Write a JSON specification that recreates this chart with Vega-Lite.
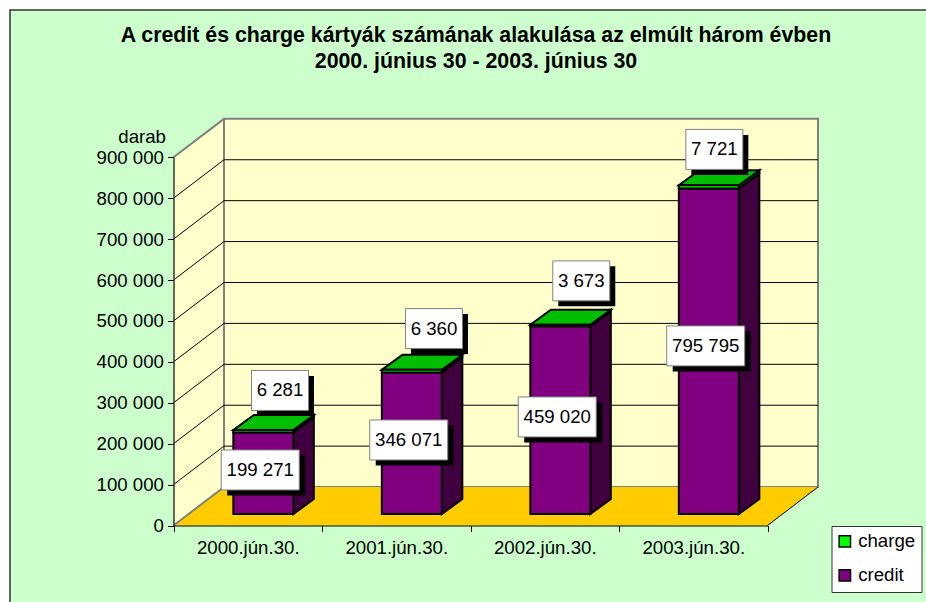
{
"$schema":"https://vega.github.io/schema/vega-lite/v6.json",
"autosize":{"type":"none"},
"padding":{"left":10,"top":10,"right":0,"bottom":0},
"width":918,"height":594,
"background":"white",
"view":{"fill":"#CCFFCC","stroke":"#333333","strokeWidth":1.5},
"title":{"text":["A credit és charge kártyák számának alakulása az elmúlt három évben","2000. június 30 - 2003. június 30"],"font":"Liberation Sans","fontSize":21.33,"fontWeight":"bold","color":"black","anchor":"middle","dx":7,"offset":-62,"baseline":"top","lineHeight":26},
"config":{"font":"Liberation Sans","text":{"font":"Liberation Sans"}},
"data":{"values":[
{"date":"2000.jún.30.","series":"credit","value":199271},
{"date":"2000.jún.30.","series":"charge","value":6281},
{"date":"2001.jún.30.","series":"credit","value":346071},
{"date":"2001.jún.30.","series":"charge","value":6360},
{"date":"2002.jún.30.","series":"credit","value":459020},
{"date":"2002.jún.30.","series":"charge","value":3673},
{"date":"2003.jún.30.","series":"credit","value":795795},
{"date":"2003.jún.30.","series":"charge","value":7721}
]},
"transform":[
{"stack":"value","groupby":["date"],"sort":[{"field":"series","order":"descending"}],"as":["start","end"]},
{"calculate":"indexof(['2000.jún.30.','2001.jún.30.','2002.jún.30.','2003.jún.30.'],datum.date)","as":"i"},
{"calculate":"datum.i+0.403","as":"xL"},
{"calculate":"datum.i+0.807","as":"xR"},
{"calculate":"datum.start+28000","as":"y0"},
{"calculate":"datum.end+28000","as":"y1"},
{"calculate":"replace(format(datum.value,','),/,/g,' ')","as":"label"},
{"calculate":"datum.series=='credit'?datum.i+0.584:[0.717,1.754,2.746,3.642][datum.i]","as":"lx"},
{"calculate":"datum.series=='credit'?[135730,209100,265350,438990][datum.i]:[330160,481300,597960,919320][datum.i]","as":"ly"}
],
"layer":[
{"data":{"values":[{"x":0,"low":0,"high":900000},{"x":0.34,"low":94000,"high":994000}]},
 "mark":{"type":"area","fill":"#FFFFCC"},
 "encoding":{
  "x":{"field":"x","type":"quantitative","scale":{"domain":[0,4],"range":[163.5,757.5],"nice":false,"zero":false},
   "axis":{"title":null,"orient":"bottom","offset":-78.5,"values":[0,0.5,1,1.5,2,2.5,3,3.5,4],"grid":false,"zindex":1,"domainColor":"black","tickColor":"black","tickSize":6,"tickOpacity":{"condition":{"test":"datum.value%1==0","value":1},"value":0},"labelFont":"Liberation Sans","labelFontSize":18.67,"labelColor":"black","labelPadding":7,"labelOverlap":false,"labelBound":false,"labelFlush":false,"labelExpr":"datum.value%1==0.5?['2000.jún.30.','2001.jún.30.','2002.jún.30.','2003.jún.30.'][floor(datum.value)]:''"}},
  "y":{"field":"low","type":"quantitative","stack":null,"scale":{"domain":[0,900000],"range":[515.5,147.3],"nice":false,"zero":false},
   "axis":{"title":"darab","titleFont":"Liberation Sans","titleFontSize":18.67,"titleFontWeight":"normal","titleColor":"black","titleAngle":0,"titleAlign":"right","titleBaseline":"middle","titleX":-8,"titleY":126,"orient":"left","offset":-163.5,"values":[0,100000,200000,300000,400000,500000,600000,700000,800000,900000],"grid":false,"zindex":1,"domainColor":"#333333","domainWidth":1.5,"tickColor":"black","tickSize":6,"labelFont":"Liberation Sans","labelFontSize":18.67,"labelColor":"black","labelPadding":4,"labelOverlap":false,"labelBound":false,"labelExpr":"replace(format(datum.value,','),/,/g,' ')"}},
  "y2":{"field":"high"}
 }},
{"data":{"values":[{"a":0}]},
 "mark":{"type":"rect","fill":"#FFFFCC","stroke":"#808080","strokeWidth":2},
 "encoding":{"x":{"datum":0.34,"type":"quantitative"},"x2":{"datum":4.34},"y":{"datum":94000,"type":"quantitative"},"y2":{"datum":994000}}},
{"data":{"values":[{"y":0,"xa":0,"xb":4},{"y":94000,"xa":0.34,"xb":4.34}]},
 "mark":{"type":"area","orient":"horizontal","fill":"#FFCC00"},
 "encoding":{"y":{"field":"y","type":"quantitative"},"x":{"field":"xa","type":"quantitative","stack":null},"x2":{"field":"xb"}}},
{"data":{"values":[{"tick":100000},{"tick":200000},{"tick":300000},{"tick":400000},{"tick":500000},{"tick":600000},{"tick":700000},{"tick":800000}]},
 "transform":[{"calculate":"datum.tick+94000","as":"back"}],
 "mark":{"type":"rule","color":"black","strokeWidth":1},
 "encoding":{"x":{"datum":0,"type":"quantitative"},"x2":{"datum":0.34},"y":{"field":"tick","type":"quantitative"},"y2":{"field":"back"}}},
{"data":{"values":[{"tick":100000},{"tick":200000},{"tick":300000},{"tick":400000},{"tick":500000},{"tick":600000},{"tick":700000},{"tick":800000}]},
 "transform":[{"calculate":"datum.tick+94000","as":"back"}],
 "mark":{"type":"rule","color":"black","strokeWidth":1},
 "encoding":{"x":{"datum":0.34,"type":"quantitative"},"x2":{"datum":4.34},"y":{"field":"back","type":"quantitative"}}},
{"data":{"values":[{"v":0,"back":94000},{"v":900000,"back":994000}]},
 "mark":{"type":"rule","color":"#808080","strokeWidth":2},
 "encoding":{"x":{"datum":0,"type":"quantitative"},"x2":{"datum":0.34},"y":{"field":"v","type":"quantitative"},"y2":{"field":"back"}}},
{"data":{"values":[{"v":0,"back":94000}]},
 "mark":{"type":"rule","color":"black","strokeWidth":1},
 "encoding":{"x":{"datum":4,"type":"quantitative"},"x2":{"datum":4.34},"y":{"field":"v","type":"quantitative"},"y2":{"field":"back"}}},
{"transform":[{"calculate":"[0,1]","as":"d"},{"flatten":["d"]},{"calculate":"datum.xR+datum.d*0.138","as":"px"},{"calculate":"datum.y0+datum.d*36700","as":"lo"},{"calculate":"datum.y1+datum.d*36700","as":"hi"}],
 "mark":{"type":"area","stroke":"black","strokeWidth":2},
 "encoding":{"x":{"field":"px","type":"quantitative"},"y":{"field":"lo","type":"quantitative","stack":null},"y2":{"field":"hi"},"detail":[{"field":"date"},{"field":"series"}],
  "fill":{"condition":{"test":"datum.series=='charge'","value":"#006000"},"value":"#400040"}}},
{"transform":[{"filter":"datum.series=='charge'"},{"calculate":"[0,1]","as":"d"},{"flatten":["d"]},{"calculate":"datum.y1+datum.d*36700","as":"py"},{"calculate":"datum.xL+datum.d*0.138","as":"pa"},{"calculate":"datum.xR+datum.d*0.138","as":"pb"}],
 "mark":{"type":"area","orient":"horizontal","fill":"#00BF00","stroke":"black","strokeWidth":2},
 "encoding":{"y":{"field":"py","type":"quantitative"},"x":{"field":"pa","type":"quantitative","stack":null},"x2":{"field":"pb"},"detail":{"field":"date"}}},
{"mark":{"type":"rect","stroke":"black","strokeWidth":2},
 "encoding":{"x":{"field":"xL","type":"quantitative"},"x2":{"field":"xR"},"y":{"field":"y0","type":"quantitative"},"y2":{"field":"y1"},
  "color":{"field":"series","type":"nominal","scale":{"domain":["charge","credit"],"range":["#00FF00","#800080"]},
   "legend":{"title":null,"orient":"none","legendX":821.5,"legendY":516,"fillColor":"white","strokeColor":"#333333","padding":6,"rowPadding":14,"symbolType":"square","symbolSize":130,"symbolOffset":-2,"symbolStrokeColor":"black","symbolStrokeWidth":1.5,"symbolOpacity":1,"labelFont":"Liberation Sans","labelFontSize":18.67,"labelColor":"black","labelOffset":4}}}},
{"transform":[{"filter":"datum.series=='credit'"}],
 "mark":{"type":"rect","fill":"black","width":78,"height":40,"xOffset":6,"yOffset":5.5},
 "encoding":{"x":{"field":"lx","type":"quantitative"},"y":{"field":"ly","type":"quantitative"}}},
{"transform":[{"filter":"datum.series=='charge'"}],
 "mark":{"type":"rect","fill":"black","width":57,"height":40,"xOffset":5.5,"yOffset":5.5},
 "encoding":{"x":{"field":"lx","type":"quantitative"},"y":{"field":"ly","type":"quantitative"}}},
{"transform":[{"filter":"datum.series=='credit'"}],
 "mark":{"type":"rect","fill":"white","stroke":"#808080","strokeWidth":1,"width":78,"height":40},
 "encoding":{"x":{"field":"lx","type":"quantitative"},"y":{"field":"ly","type":"quantitative"}}},
{"transform":[{"filter":"datum.series=='charge'"}],
 "mark":{"type":"rect","fill":"white","stroke":"#808080","strokeWidth":1,"width":57,"height":40},
 "encoding":{"x":{"field":"lx","type":"quantitative"},"y":{"field":"ly","type":"quantitative"}}},
{"mark":{"type":"text","font":"Liberation Sans","fontSize":18.67,"color":"black","align":"center","baseline":"middle"},
 "encoding":{"x":{"field":"lx","type":"quantitative"},"y":{"field":"ly","type":"quantitative"},"text":{"field":"label"}}}
]
}
